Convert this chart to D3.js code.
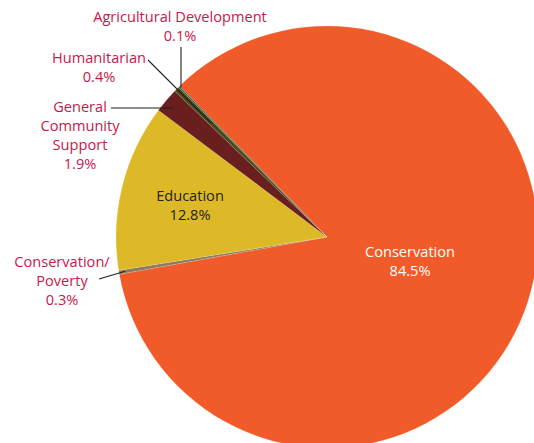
<!DOCTYPE html>
<html>
<head>
<meta charset="utf-8">
<script src="https://cdn.jsdelivr.net/npm/d3@7"></script>
<style>
  html, body { margin: 0; padding: 0; background: #fff; }
  svg { display: block; }
  text { font-family: "Open Sans", sans-serif; }
</style>
</head>
<body>
<svg id="chart" width="534" height="443"></svg>
<script>
// Grant share by programme area (percent of total)
const categories = ["Conservation", "Conservation/Poverty", "Education",
  "General Community Support", "Humanitarian", "Agricultural Development"];
const shares = [84.5, 0.3, 12.8, 1.9, 0.4, 0.1];
const colors = ["#F15A29", "#8C7B5E", "#DEB927", "#6A1F1F", "#4B4716", "#1B6A45"];

// Label text for each slice (lines)
const labelLines = [
  ["Conservation", "84.5%"],
  ["Conservation/", "Poverty", "0.3%"],
  ["Education", "12.8%"],
  ["General", "Community", "Support", "1.9%"],
  ["Humanitarian", "0.4%"],
  ["Agricultural Development", "0.1%"]
];

const W = 534, H = 443;
const cx = 327, cy = 237, R = 211;
const startDeg = -44.4;
const fontSize = 14.6;

const svg = d3.select("#chart");
const g = svg.append("g").attr("transform", `translate(${cx},${cy})`);

const data = categories.map((c, i) => ({ name: c, value: shares[i], color: colors[i], lines: labelLines[i] }));

const pie = d3.pie()
  .sort(null)
  .value(d => d.value)
  .startAngle(startDeg * Math.PI / 180)
  .endAngle(startDeg * Math.PI / 180 + 2 * Math.PI);

const arcs = pie(data);
const arc = d3.arc().innerRadius(0).outerRadius(R);

g.selectAll("path.slice")
  .data(arcs)
  .join("path")
  .attr("class", "slice")
  .attr("d", arc)
  .attr("fill", d => d.data.color)
  .attr("stroke", "rgba(255,255,255,0.35)")
  .attr("stroke-width", 0.4);

const labelColor = "#C8174B";
const lineH = 19;

// Point on a slice at a given radius fraction, angle at slice middle
function slicePoint(a, rf) {
  const ang = (a.startAngle + a.endAngle) / 2;
  return [cx + Math.sin(ang) * R * rf, cy - Math.cos(ang) * R * rf];
}

// Inside labels: [slice index, text centre x, first baseline y, fill]
const inside = [
  [0, 410, 257, "#ffffff"],
  [2, 190, 201, "#231F20"]
];
inside.forEach(([i, x, y, fill]) => {
  const t = svg.append("text")
    .attr("x", x).attr("y", y)
    .attr("text-anchor", "middle")
    .attr("font-size", fontSize)
    .attr("fill", fill);
  arcs[i].data.lines.forEach((ln, k) => {
    t.append("tspan").attr("x", x).attr("dy", k === 0 ? 0 : lineH).text(ln);
  });
});

// Outside labels with leader lines:
// [slice index, text centre x, first baseline y, leader start [x,y], radius fraction of leader end]
const outside = [
  [1, 62, 267, [99, 279], 0.97],
  [3, 80, 112, [111, 108], 0.74],
  [4, 99, 63, [148, 60], 0.77],
  [5, 180, 22, [181, 47], 0.995]
];
outside.forEach(([i, x, y, p0, rf]) => {
  const a = arcs[i];
  let p1 = slicePoint(a, rf);
  if (i === 3) p1 = [173, 108];
  if (i === 5) p1 = [p0[0], p1[1]];
  svg.append("line")
    .attr("x1", p0[0]).attr("y1", p0[1])
    .attr("x2", p1[0]).attr("y2", p1[1])
    .attr("stroke", "#231F20")
    .attr("stroke-width", 1.1);
  const t = svg.append("text")
    .attr("x", x).attr("y", y)
    .attr("text-anchor", "middle")
    .attr("font-size", fontSize)
    .attr("fill", labelColor);
  a.data.lines.forEach((ln, k) => {
    t.append("tspan").attr("x", x).attr("dy", k === 0 ? 0 : lineH).text(ln);
  });
});
</script>
</body>
</html>
